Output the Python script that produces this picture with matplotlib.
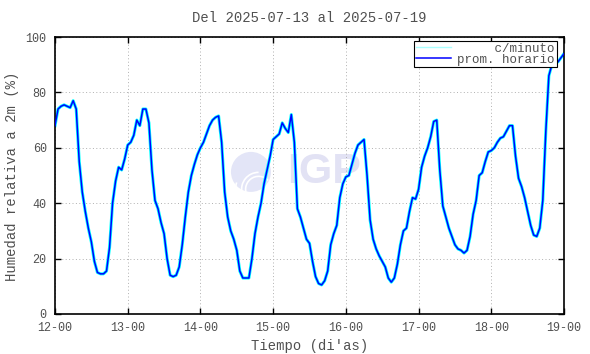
#!/usr/bin/env python3

import matplotlib
matplotlib.use('Agg')
import matplotlib.pyplot as plt
import matplotlib.dates as mdates
from matplotlib.lines import Line2D
from matplotlib.patches import Ellipse, Arc
import pandas as pd

TITLE = 'Del 2025-07-13 al 2025-07-19'
XLABEL = "Tiempo (di'as)"
YLABEL = 'Humedad relativa a 2m (%)'
START = '2025-07-12 00:00'
END = '2025-07-19 00:00'

# hourly mean relative humidity (%), one list per day
d12 = [68, 74, 75, 75.5, 75, 74.5, 77, 74, 55, 44, 37, 31, 26, 19, 15, 14.5, 14.5, 15.5, 24, 40, 48, 53, 52, 56]
d13 = [61, 62, 64.5, 70, 68, 74, 74, 69, 52, 41, 38, 33, 29, 20, 14, 13.5, 14, 17, 25, 35, 44, 50, 54, 57.5]
d14 = [60, 62, 65, 68, 70, 71, 71.5, 62, 44, 35, 30, 27, 23, 15.5, 13, 13, 13, 20, 29, 35, 40, 47, 52, 57]
d15 = [63, 64, 65, 69, 67, 65.5, 72, 62, 38, 35, 31, 27, 25.5, 19, 13.5, 11, 10.5, 12, 15.5, 25, 29, 32, 42, 47]
d16 = [49.5, 50, 54, 58, 61, 62, 63, 50, 34, 27, 23.5, 21, 19, 17, 13, 11.5, 13, 18, 25, 30, 31, 37, 42, 41.5]
d17 = [45, 53, 57, 60, 64, 69.5, 70, 52, 39, 35, 31, 28, 25, 23.5, 23, 22, 23, 28, 36, 41, 50, 51, 55, 58.5]
d18 = [59, 60, 62, 63.5, 64, 66, 68, 68, 57, 49, 46, 42, 37, 32, 28.5, 28, 31, 41, 66, 86, 90, 91.5, 91, 92.5]
d19 = [94]

LEG_LABELS = ['     c/minuto', 'prom. horario']
TEXT_C = '#505050'
FONT = 'Liberation Mono'

hourly = d12 + d13 + d14 + d15 + d16 + d17 + d18 + d19
df = pd.DataFrame({'hr': hourly},
                  index=pd.date_range(START, periods=len(hourly), freq='h'))

fig = plt.figure(figsize=(5.9, 3.54), dpi=100)
ax = fig.add_axes([55 / 590, 1 - 314 / 354, 509 / 590, 277 / 354])

# watermark logo
ax.add_patch(Ellipse((0.385, 0.513), 40 / 509, 40 / 277, transform=ax.transAxes,
                     facecolor='#e3e5f7', edgecolor='none', zorder=0))
for r, t1, t2 in [(34, 90, 200), (26, 60, 230), (46, 150, 250)]:
    ax.add_patch(Arc((0.40, 0.45), r / 509, r / 277, theta1=t1, theta2=t2,
                     transform=ax.transAxes, color='white', lw=1.2, zorder=0))
ax.text(0.456, 0.513, 'IGP', transform=ax.transAxes, fontsize=31,
        fontweight='bold', family='Liberation Sans', color='#e2e2f4',
        ha='left', va='center', zorder=0)

ax.plot(df.index, df['hr'], color='#00ffff', lw=2.2, zorder=2)
ax.plot(df.index, df['hr'], color='#0000ff', lw=1.1, zorder=3)

ax.set_xlim(pd.Timestamp(START), pd.Timestamp(END))
ax.set_ylim(0, 100)
ax.set_yticks(range(0, 101, 20))
ax.xaxis.set_major_locator(mdates.DayLocator())
ax.xaxis.set_major_formatter(mdates.DateFormatter('%d-%H'))

ax.grid(True, color='#b0b0b0', lw=0.7, linestyle=(0, (1, 2.5)))
ax.tick_params(direction='in', length=4.5, width=1, top=True, right=True,
               labelsize=8.5, labelcolor=TEXT_C, pad=6)
for lab in ax.get_xticklabels() + ax.get_yticklabels():
    lab.set_family(FONT)
for s in ax.spines.values():
    s.set_linewidth(1.2)

handles = [Line2D([], [], color='#aaffff', lw=1.0),
           Line2D([], [], color='#0000ff', lw=1.1)]
leg = ax.legend(handles, LEG_LABELS, loc='upper right', bbox_to_anchor=(0.986, 0.986),
                borderaxespad=0, borderpad=0.15, labelspacing=-0.1, handlelength=2.8,
                handletextpad=0.55, fancybox=False, framealpha=1,
                prop={'family': FONT, 'size': 9})
leg.get_frame().set_edgecolor('black')
leg.get_frame().set_linewidth(0.8)
for t in leg.get_texts():
    t.set_color(TEXT_C)

fig.text(309 / 590, 1 - 18 / 354, TITLE, ha='center', va='center',
         family=FONT, fontsize=10, color=TEXT_C)
fig.text(310 / 590, 1 - 346 / 354, XLABEL, ha='center', va='center',
         family=FONT, fontsize=10, color=TEXT_C)
fig.text(12 / 590, 1 - 176 / 354, YLABEL, ha='center', va='center', rotation=90,
         family=FONT, fontsize=10, color=TEXT_C)

fig.savefig('out.png', dpi=100)
